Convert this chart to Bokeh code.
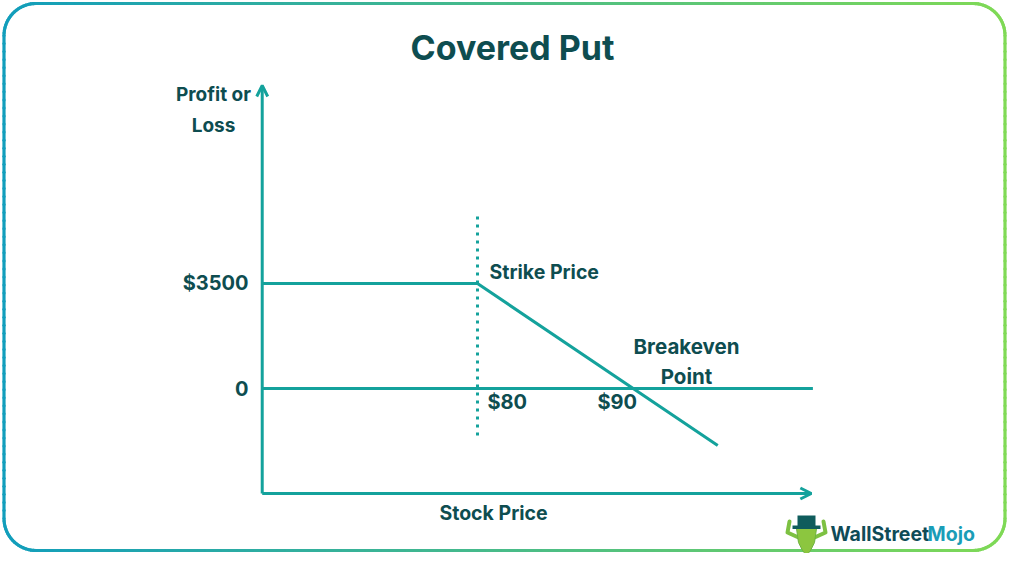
import numpy as np
from bokeh.plotting import figure
from bokeh.models import Range1d, Label, Arrow, OpenHead
from bokeh.embed import file_html
from bokeh.resources import INLINE

# ---------------- data ----------------
stock_price = [66.2, 80.0, 95.4]          # payoff line (stock price, $)
profit = [3500, 3500, -1900]              # payoff line (profit / loss, $)
strike_price = 80
breakeven_price = 90
premium = 3500
x_tick_values = [80, 90]
x_tick_labels = ["$80", "$90"]
y_tick_values = [3500, 0]
y_tick_labels = ["$3500", "0"]
axis_x = [66.2, 101.4]                    # stock price axis extent
axis_y = [-3500, 10100]                   # profit axis extent
zero_line_x = [66.2, 101.5]
strike_line_y = [-1570, 5770]

# ---------------- layout helpers ----------------
W, H = 1008, 553
def rx(px):   # pixel x -> data x
    return 80 + (px - 477) / 15.6
def ry(py):   # pixel y -> data y
    return (388 - py) * 33.333

DARK = "#0E4D50"
TEAL = "#14A29C"

p = figure(width=W, height=H, output_backend="svg", toolbar_location=None,
           x_range=Range1d(rx(0), rx(W)), y_range=Range1d(ry(H), ry(0)),
           min_border=0, x_axis_location=None, y_axis_location=None)
p.grid.visible = False
p.outline_line_color = None
p.background_fill_color = "white"
p.border_fill_color = "white"

# ---------------- gradient rounded border ----------------
L, R, T, B, rad = 3.5, W - 3.5, 3.0, H - 3.0, 32
pts = []
def arc(cx, cy, a0, a1, n=20):
    for a in np.linspace(a0, a1, n):
        pts.append((cx + rad * np.cos(a), cy + rad * np.sin(a)))
arc(L + rad, T + rad, np.pi, 1.5 * np.pi)
arc(R - rad, T + rad, 1.5 * np.pi, 2 * np.pi)
arc(R - rad, B - rad, 0, 0.5 * np.pi)
arc(L + rad, B - rad, 0.5 * np.pi, np.pi)
pts.append(pts[0])
dense = []
for (x0, y0), (x1, y1) in zip(pts[:-1], pts[1:]):
    n = max(1, int(np.hypot(x1 - x0, y1 - y0) / 8))
    for k in range(n):
        dense.append((x0 + (x1 - x0) * k / n, y0 + (y1 - y0) * k / n))
dense.append(pts[0])
c0 = np.array([18, 158, 188]); c1 = np.array([128, 218, 86])
xs, ys, cols = [], [], []
for (x0, y0), (x1, y1) in zip(dense[:-1], dense[1:]):
    t = ((x0 + x1) / 2 - L) / (R - L)
    c = (c0 + (c1 - c0) * t).astype(int)
    xs.append([rx(x0), rx(x1)]); ys.append([ry(y0), ry(y1)])
    cols.append("#%02x%02x%02x" % tuple(c))
p.multi_line(xs, ys, line_color=cols, line_width=3.2, line_cap="round")

# ---------------- chart ----------------
p.line(zero_line_x, [0, 0], line_color=TEAL, line_width=3)
p.line([strike_price, strike_price], strike_line_y, line_color=TEAL,
       line_width=3, line_dash="3 5")
p.line(stock_price, profit, line_color=TEAL, line_width=3)
p.add_layout(Arrow(end=OpenHead(size=11, line_color=TEAL, line_width=3),
                   x_start=axis_x[0], y_start=axis_y[0], x_end=axis_x[0], y_end=axis_y[1],
                   line_color=TEAL, line_width=3))
p.add_layout(Arrow(end=OpenHead(size=11, line_color=TEAL, line_width=3),
                   x_start=axis_x[0], y_start=axis_y[0], x_end=axis_x[1], y_end=axis_y[0],
                   line_color=TEAL, line_width=3))

FONT = "Inter"
def lab(x, y, text, size, align="left", color=DARK, baseline="middle"):
    p.add_layout(Label(x=x, y=y, text=text, text_font=FONT, text_font_style="bold",
                       text_font_size=f"{size}px", text_color=color,
                       text_align=align, text_baseline=baseline))

lab(rx(512), ry(47), "Covered Put", 34, "center")
lab(rx(213), ry(94), "Profit or", 19, "center")
lab(rx(213), ry(125), "Loss", 19, "center")
for v, t in zip(y_tick_values, y_tick_labels):
    lab(rx(248), v, t, 20, "right")
x_tick_offsets = [10, -36]   # label left edge relative to tick (px)
for v, t, o in zip(x_tick_values, x_tick_labels, x_tick_offsets):
    lab(v + o / 15.6, ry(401), t, 20, "left")
lab(rx(489), ry(271), "Strike Price", 19.5, "left")
lab(rx(686), ry(346), "Breakeven", 20.5, "center")
lab(rx(686), ry(376), "Point", 20.5, "center")
lab(rx(493), ry(512), "Stock Price", 19.5, "center")

# ---------------- logo ----------------
GREEN = "#7DC142"
p.multi_line([[rx(798), rx(787), rx(789)], [rx(814), rx(825), rx(823)]],
             [[ry(537), ry(532), ry(521)], [ry(537), ry(532), ry(521)]],
             line_color=GREEN, line_width=4, line_join="round", line_cap="round")
p.patch([rx(796), rx(816), rx(814), rx(810), rx(806), rx(802), rx(798)],
        [ry(528), ry(528), ry(542), ry(550), ry(555), ry(550), ry(542)],
        fill_color="#8CC63F", line_color="#6DB33F", line_width=1)
p.quad(left=rx(797), right=rx(815), top=ry(515), bottom=ry(526), fill_color="#0F5C5C", line_color=None)
p.quad(left=rx(792), right=rx(820), top=ry(525), bottom=ry(528.5), fill_color="#0F5C5C", line_color=None)
lab(rx(830), ry(533), "WallStreet", 19.5, "left", color="#0F4B57")
lab(rx(927), ry(533), "Mojo", 19.5, "left", color="#1A9DB7")

open("out.html", "w").write(file_html(p, INLINE))
